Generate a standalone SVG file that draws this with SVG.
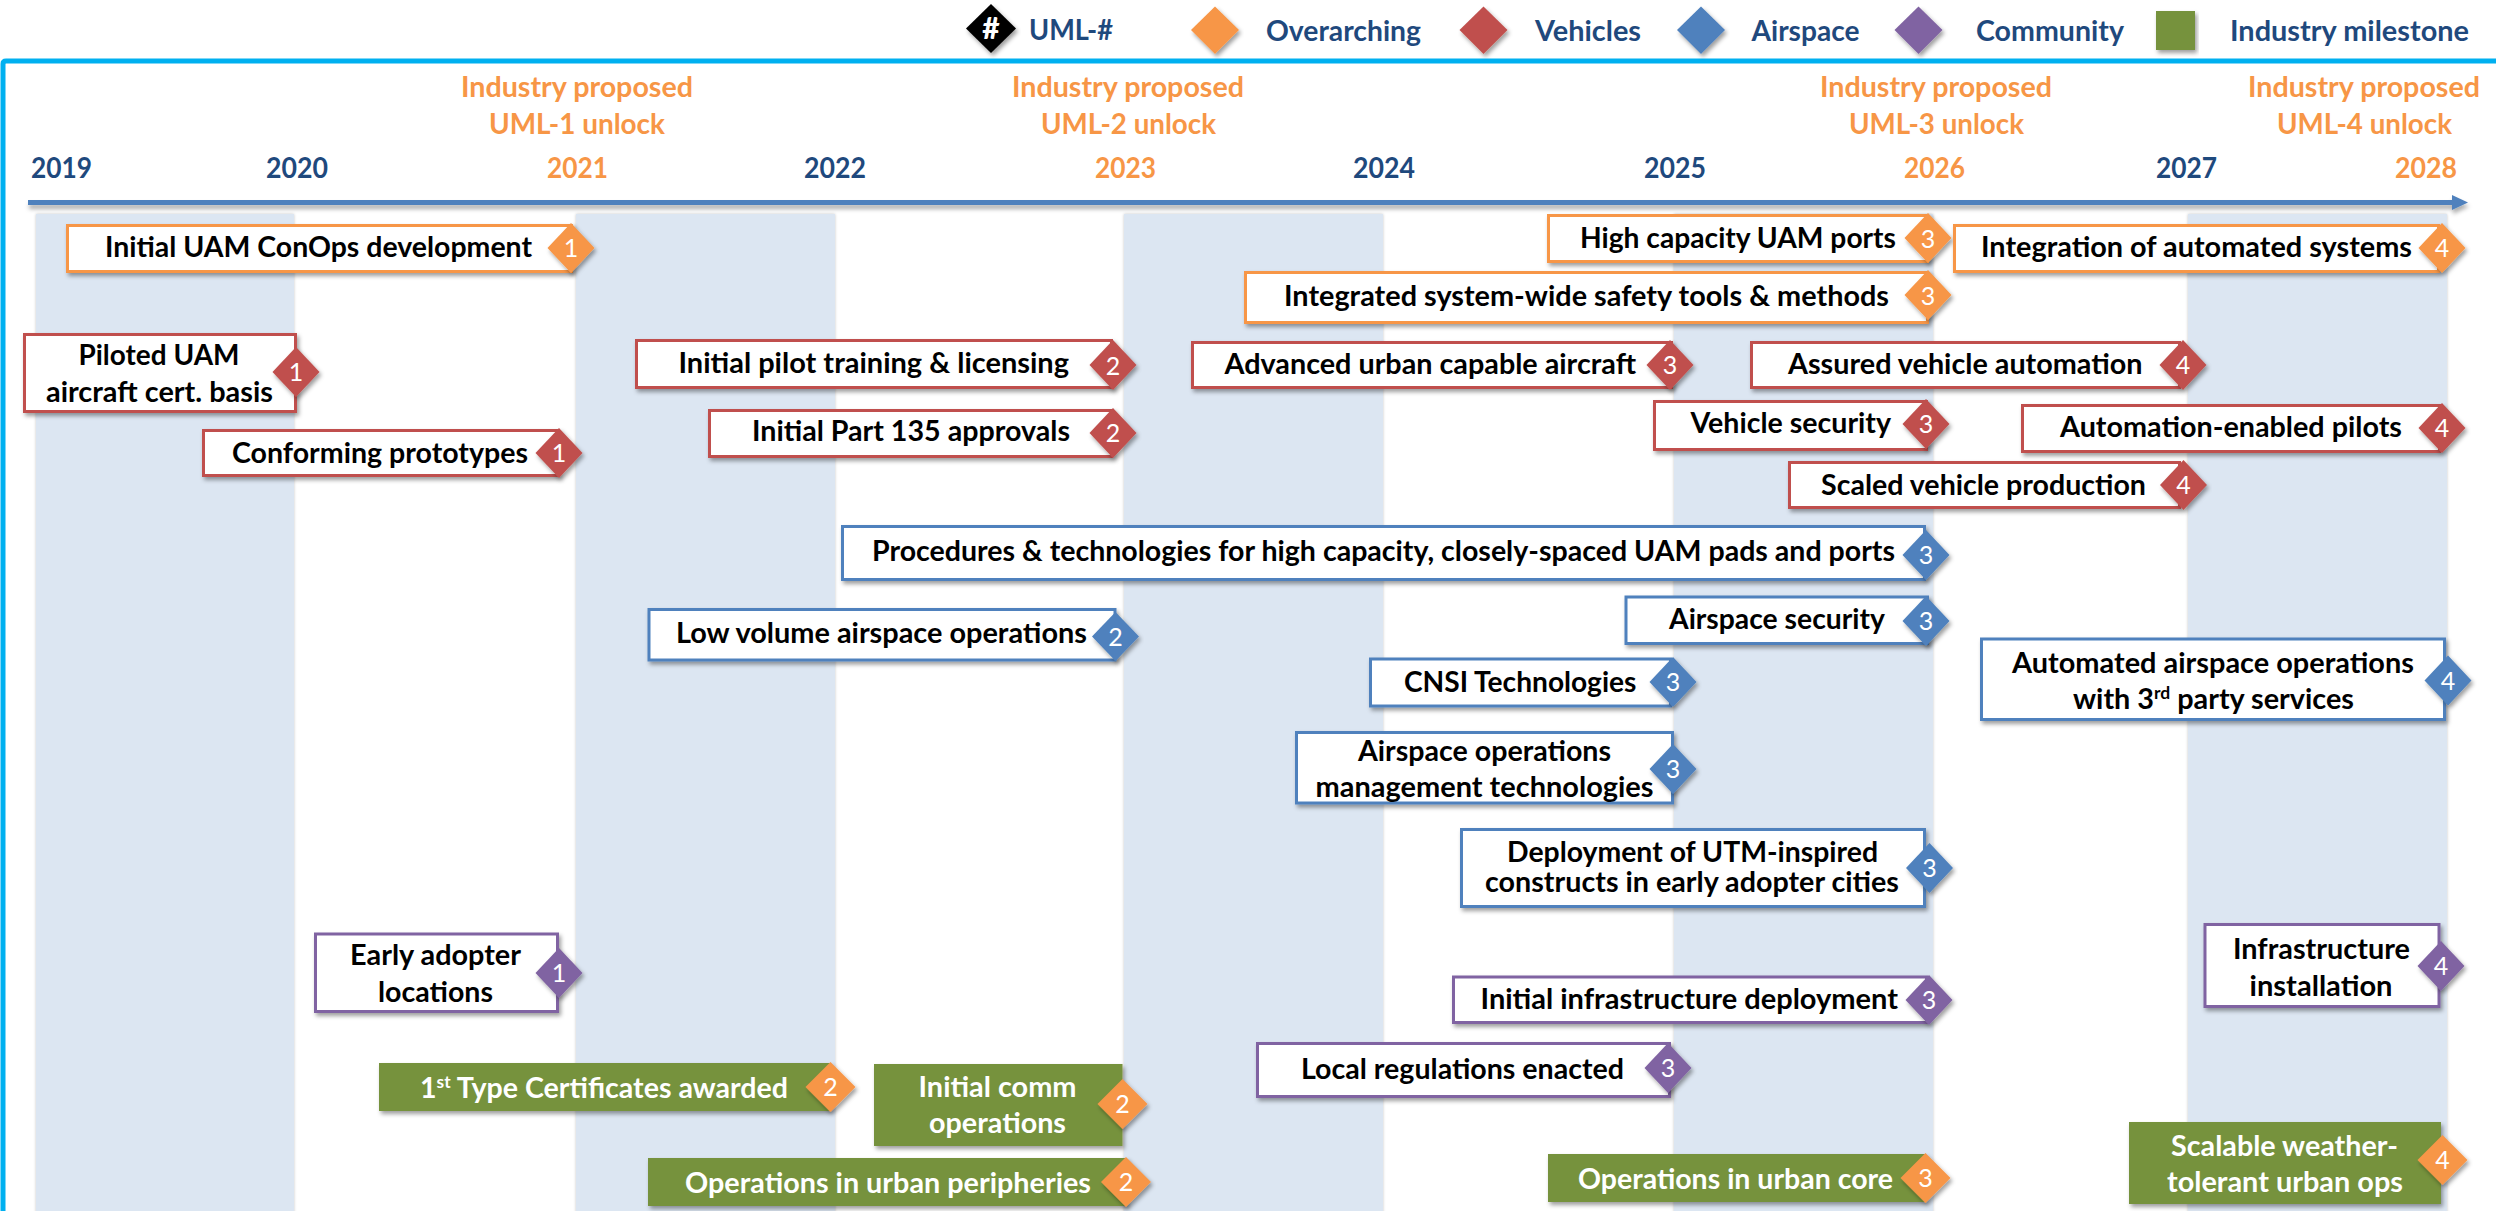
<svg xmlns="http://www.w3.org/2000/svg" width="2496" height="1211" viewBox="0 0 2496 1211">
<defs>
<filter id="sh" x="-10%" y="-20%" width="120%" height="150%"><feDropShadow dx="2" dy="3" stdDeviation="2" flood-color="#000" flood-opacity=".38"/></filter>
<filter id="ln" filterUnits="userSpaceOnUse" x="0" y="185" width="2496" height="40"><feDropShadow dx="1" dy="4" stdDeviation="2" flood-color="#000" flood-opacity=".32"/></filter>
<filter id="bs" x="-5%" y="-1%" width="110%" height="102%"><feDropShadow dx="0" dy="0" stdDeviation="1.5" flood-color="#000" flood-opacity=".22"/></filter>
</defs>
<style>
text{font-family:Lato,"Liberation Sans",sans-serif}
.b{font-weight:700;font-size:28px;fill:#000}
.w{font-weight:700;font-size:28px;fill:#fff}
.n{font-weight:400;font-size:25px;fill:#fff;text-anchor:middle}
.y{font-weight:700;font-size:28px;fill:#1F497D}
.o{font-weight:700;font-size:28px;fill:#F79646}
.h{font-weight:900;font-size:30px;fill:#fff;text-anchor:middle}
.box{fill:#fff;stroke-width:3;filter:url(#sh)}
.gb{fill:#76923C;filter:url(#sh)}
.band{fill:#DCE6F2;filter:url(#bs)}
.dia{filter:url(#sh)}
.OV{stroke:#F79646}.VE{stroke:#C0504D}.AI{stroke:#4F81BD}.CO{stroke:#8064A2}
.fOV{fill:#F79646}.fVE{fill:#C0504D}.fAI{fill:#4F81BD}.fCO{fill:#8064A2}
</style>
<rect width="2496" height="1211" fill="#fff"/>
<g id="bands">
<rect class="band" x="36" y="214" width="258" height="1000"/>
<rect class="band" x="576" y="214" width="259" height="1000"/>
<rect class="band" x="1124" y="214" width="259" height="1000"/>
<rect class="band" x="1674" y="214" width="259" height="1000"/>
<rect class="band" x="2188" y="214" width="259" height="1000"/>
</g>
<path d="M3,1214V64Q3,61 6,61H2496" fill="none" stroke="#00B0F0" stroke-width="5"/>
<g id="legend">
<path d="M991,4L1016,28.500L991,53L966,28.500Z" fill="#000" filter="url(#sh)"/><text x="991" y="39" class="h">#</text>
<text class="y" x="1029" y="40" textLength="84" lengthAdjust="spacingAndGlyphs">UML-#</text>
<path class="fOV dia" d="M1215,6.500L1239,30L1215,54L1191,30Z"/><text class="y" x="1266" y="41" textLength="155" lengthAdjust="spacingAndGlyphs">Overarching</text>
<path class="fVE dia" d="M1483.500,6.500L1507.500,30L1483.500,54L1459.500,30Z"/><text class="y" x="1535" y="41" textLength="106" lengthAdjust="spacingAndGlyphs">Vehicles</text>
<path class="fAI dia" d="M1701,6.500L1725,30L1701,54L1677,30Z"/><text class="y" x="1751.500" y="41" textLength="108" lengthAdjust="spacingAndGlyphs">Airspace</text>
<path class="fCO dia" d="M1918.500,6.500L1942.500,30L1918.500,54L1894.500,30Z"/><text class="y" x="1976" y="41" textLength="148" lengthAdjust="spacingAndGlyphs">Community</text>
<rect class="gb" x="2156" y="11" width="39" height="39"/><text class="y" x="2230" y="41" textLength="239" lengthAdjust="spacingAndGlyphs">Industry milestone</text>
</g>
<g id="years">
<text class="y" x="31" y="178" textLength="61" lengthAdjust="spacingAndGlyphs">2019</text>
<text class="y" x="266" y="178" textLength="62" lengthAdjust="spacingAndGlyphs">2020</text>
<text class="o" x="547" y="178" textLength="61" lengthAdjust="spacingAndGlyphs">2021</text>
<text class="y" x="804" y="178" textLength="62" lengthAdjust="spacingAndGlyphs">2022</text>
<text class="o" x="1095" y="178" textLength="61" lengthAdjust="spacingAndGlyphs">2023</text>
<text class="y" x="1353" y="178" textLength="62" lengthAdjust="spacingAndGlyphs">2024</text>
<text class="y" x="1644" y="178" textLength="62" lengthAdjust="spacingAndGlyphs">2025</text>
<text class="o" x="1904" y="178" textLength="61" lengthAdjust="spacingAndGlyphs">2026</text>
<text class="y" x="2156" y="178" textLength="61" lengthAdjust="spacingAndGlyphs">2027</text>
<text class="o" x="2395" y="178" textLength="62" lengthAdjust="spacingAndGlyphs">2028</text>
<text class="o" x="461" y="97" textLength="232" lengthAdjust="spacingAndGlyphs">Industry proposed</text>
<text class="o" x="489" y="134" textLength="176" lengthAdjust="spacingAndGlyphs">UML-1 unlock</text>
<text class="o" x="1012" y="97" textLength="232" lengthAdjust="spacingAndGlyphs">Industry proposed</text>
<text class="o" x="1041" y="134" textLength="175" lengthAdjust="spacingAndGlyphs">UML-2 unlock</text>
<text class="o" x="1820" y="97" textLength="232" lengthAdjust="spacingAndGlyphs">Industry proposed</text>
<text class="o" x="1849" y="134" textLength="175" lengthAdjust="spacingAndGlyphs">UML-3 unlock</text>
<text class="o" x="2248" y="97" textLength="232" lengthAdjust="spacingAndGlyphs">Industry proposed</text>
<text class="o" x="2277" y="134" textLength="175" lengthAdjust="spacingAndGlyphs">UML-4 unlock</text>
</g>
<g id="connectors" filter="url(#ln)">
<path d="M28,202.500H2454" stroke="#4F81BD" stroke-width="5" fill="none"/>
<path d="M2452,195L2468,202.500L2452,210Z" fill="#4F81BD"/>
</g>
<g id="n1"><rect class="box OV" x="67.500" y="225.500" width="504" height="46"/><text class="b" x="105" y="257" textLength="427" lengthAdjust="spacingAndGlyphs">Initial UAM ConOps development</text><path class="fOV dia" d="M571,223L594.500,248L571,273L547.500,248Z"/><text class="n" x="571" y="257">1</text></g>
<g id="n2"><rect class="box OV" x="1548.500" y="215.500" width="379" height="46"/><text class="b" x="1580" y="248" textLength="316" lengthAdjust="spacingAndGlyphs">High capacity UAM ports</text><path class="fOV dia" d="M1928,213L1951.500,238L1928,263L1904.500,238Z"/><text class="n" x="1928" y="248">3</text></g>
<g id="n3"><rect class="box OV" x="1245.500" y="272.500" width="682" height="50"/><text class="b" x="1284" y="306" textLength="605" lengthAdjust="spacingAndGlyphs">Integrated system-wide safety tools &amp; methods</text><path class="fOV dia" d="M1928,270L1951.500,295L1928,320L1904.500,295Z"/><text class="n" x="1928" y="305">3</text></g>
<g id="n4"><rect class="box OV" x="1954.500" y="225.500" width="484" height="46"/><text class="b" x="1981" y="257" textLength="431" lengthAdjust="spacingAndGlyphs">Integration of automated systems</text><path class="fOV dia" d="M2442,223L2465.500,248L2442,273L2418.500,248Z"/><text class="n" x="2442" y="257">4</text></g>
<g id="n5"><rect class="box VE" x="24.500" y="334.500" width="271" height="77"/><text class="b" x="78.500" y="365" textLength="161" lengthAdjust="spacingAndGlyphs">Piloted UAM</text><text class="b" x="46" y="402" textLength="227" lengthAdjust="spacingAndGlyphs">aircraft cert. basis</text><path class="fVE dia" d="M296,347L319.500,372L296,397L272.500,372Z"/><text class="n" x="296" y="381">1</text></g>
<g id="n6"><rect class="box VE" x="203.500" y="430.500" width="354" height="45"/><text class="b" x="232" y="463" textLength="296" lengthAdjust="spacingAndGlyphs">Conforming prototypes</text><path class="fVE dia" d="M559,428L582.500,453L559,478L535.500,453Z"/><text class="n" x="559" y="462">1</text></g>
<g id="n7"><rect class="box VE" x="636.500" y="340.500" width="475" height="47"/><text class="b" x="678.500" y="373" textLength="390.500" lengthAdjust="spacingAndGlyphs">Initial pilot training &amp; licensing</text><path class="fVE dia" d="M1113,340L1136.500,365L1113,390L1089.500,365Z"/><text class="n" x="1113" y="375">2</text></g>
<g id="n8"><rect class="box VE" x="709.500" y="410.500" width="402" height="46"/><text class="b" x="752" y="441" textLength="318" lengthAdjust="spacingAndGlyphs">Initial Part 135 approvals</text><path class="fVE dia" d="M1113,408L1136.500,433L1113,458L1089.500,433Z"/><text class="n" x="1113" y="442">2</text></g>
<g id="n9"><rect class="box VE" x="1192.500" y="342.500" width="479" height="45"/><text class="b" x="1224.500" y="374" textLength="411.500" lengthAdjust="spacingAndGlyphs">Advanced urban capable aircraft</text><path class="fVE dia" d="M1670,340L1693.500,365L1670,390L1646.500,365Z"/><text class="n" x="1670" y="374">3</text></g>
<g id="n10"><rect class="box VE" x="1751.500" y="342.500" width="428" height="45"/><text class="b" x="1788" y="374" textLength="354.500" lengthAdjust="spacingAndGlyphs">Assured vehicle automation</text><path class="fVE dia" d="M2183,340L2206.500,365L2183,390L2159.500,365Z"/><text class="n" x="2183" y="374">4</text></g>
<g id="n11"><rect class="box VE" x="1654.500" y="401.500" width="272" height="48"/><text class="b" x="1690.500" y="433" textLength="200.500" lengthAdjust="spacingAndGlyphs">Vehicle security</text><path class="fVE dia" d="M1926,399L1949.500,424L1926,449L1902.500,424Z"/><text class="n" x="1926" y="433">3</text></g>
<g id="n12"><rect class="box VE" x="2022.500" y="405.500" width="417" height="46"/><text class="b" x="2060" y="437" textLength="342" lengthAdjust="spacingAndGlyphs">Automation-enabled pilots</text><path class="fVE dia" d="M2442,403L2465.500,428L2442,453L2418.500,428Z"/><text class="n" x="2442" y="437">4</text></g>
<g id="n13"><rect class="box VE" x="1789.500" y="462.500" width="390" height="45"/><text class="b" x="1821" y="495" textLength="325" lengthAdjust="spacingAndGlyphs">Scaled vehicle production</text><path class="fVE dia" d="M2183.500,460L2207,485L2183.500,510L2160,485Z"/><text class="n" x="2183.500" y="494">4</text></g>
<g id="n14"><rect class="box AI" x="842.500" y="526.500" width="1082" height="53"/><text class="b" x="872" y="561" textLength="1023" lengthAdjust="spacingAndGlyphs">Procedures &amp; technologies for high capacity, closely-spaced UAM pads and ports</text><path class="fAI dia" d="M1926,530L1949.500,555L1926,580L1902.500,555Z"/><text class="n" x="1926" y="564">3</text></g>
<g id="n15"><rect class="box AI" x="1626" y="597" width="301.500" height="46.500"/><text class="b" x="1669" y="629" textLength="216" lengthAdjust="spacingAndGlyphs">Airspace security</text><path class="fAI dia" d="M1926,596L1949.500,621L1926,646L1902.500,621Z"/><text class="n" x="1926" y="630">3</text></g>
<g id="n16"><rect class="box AI" x="649" y="609.500" width="466" height="50.500"/><text class="b" x="676" y="643" textLength="411" lengthAdjust="spacingAndGlyphs">Low volume airspace operations</text><path class="fAI dia" d="M1115.500,612L1139,636.500L1115.500,661L1092,636.500Z"/><text class="n" x="1115.500" y="646">2</text></g>
<g id="n17"><rect class="box AI" x="1370.500" y="659" width="300" height="47"/><text class="b" x="1404" y="692" textLength="232.500" lengthAdjust="spacingAndGlyphs">CNSI Technologies</text><path class="fAI dia" d="M1673,657L1696.500,682L1673,707L1649.500,682Z"/><text class="n" x="1673" y="691">3</text></g>
<g id="n18"><rect class="box AI" x="1296.500" y="732.500" width="376" height="70.500"/><text class="b" x="1358" y="760.500" textLength="253" lengthAdjust="spacingAndGlyphs">Airspace operations</text><text class="b" x="1315.500" y="797" textLength="338" lengthAdjust="spacingAndGlyphs">management technologies</text><path class="fAI dia" d="M1673,744L1696.500,769L1673,794L1649.500,769Z"/><text class="n" x="1673" y="778">3</text></g>
<g id="n19"><rect class="box AI" x="1461.500" y="829.500" width="463" height="77"/><text class="b" x="1507" y="862" textLength="371" lengthAdjust="spacingAndGlyphs">Deployment of UTM-inspired</text><text class="b" x="1485" y="892" textLength="414" lengthAdjust="spacingAndGlyphs">constructs in early adopter cities</text><path class="fAI dia" d="M1929.500,843L1953,868L1929.500,893L1906,868Z"/><text class="n" x="1929.500" y="877">3</text></g>
<g id="n20"><rect class="box AI" x="1981.500" y="639" width="463" height="80.500"/><text class="b" x="2012" y="672.500" textLength="402" lengthAdjust="spacingAndGlyphs">Automated airspace operations</text><text class="b" x="2073" y="709" textLength="281" lengthAdjust="spacingAndGlyphs">with 3<tspan font-size="17" dy="-10">rd</tspan><tspan dy="10"> party services</tspan></text><path class="fAI dia" d="M2448,655.500L2471.500,680.500L2448,705.500L2424.500,680.500Z"/><text class="n" x="2448" y="689.500">4</text></g>
<g id="n21"><rect class="box CO" x="315.500" y="934" width="242" height="77.500"/><text class="b" x="350" y="965" textLength="171" lengthAdjust="spacingAndGlyphs">Early adopter</text><text class="b" x="378" y="1002" textLength="115" lengthAdjust="spacingAndGlyphs">locations</text><path class="fCO dia" d="M559,948L582.500,973L559,998L535.500,973Z"/><text class="n" x="559" y="982">1</text></g>
<g id="n22"><rect class="box CO" x="2205" y="924.500" width="234" height="82"/><text class="b" x="2233" y="959" textLength="177" lengthAdjust="spacingAndGlyphs">Infrastructure</text><text class="b" x="2249.500" y="995.500" textLength="143" lengthAdjust="spacingAndGlyphs">installation</text><path class="fCO dia" d="M2441,941L2464.500,966L2441,991L2417.500,966Z"/><text class="n" x="2441" y="975">4</text></g>
<g id="n23"><rect class="box CO" x="1453.500" y="977" width="473" height="45.500"/><text class="b" x="1480.500" y="1009" textLength="417.500" lengthAdjust="spacingAndGlyphs">Initial infrastructure deployment</text><path class="fCO dia" d="M1929,975L1952.500,1000L1929,1025L1905.500,1000Z"/><text class="n" x="1929" y="1009">3</text></g>
<g id="n24"><rect class="box CO" x="1257.500" y="1043.500" width="412" height="53"/><text class="b" x="1301" y="1079" textLength="323" lengthAdjust="spacingAndGlyphs">Local regulations enacted</text><path class="fCO dia" d="M1668,1043L1691.500,1068L1668,1093L1644.500,1068Z"/><text class="n" x="1668" y="1077">3</text></g>
<g id="n25"><rect class="gb" x="379" y="1063" width="451" height="48"/><text class="w" x="420" y="1098" textLength="368" lengthAdjust="spacingAndGlyphs">1<tspan font-size="17" dy="-10">st</tspan><tspan dy="10"> Type Certificates awarded</tspan></text><path class="fOV dia" d="M830.500,1062L855.500,1087L830.500,1112L805.500,1087Z"/><text class="n" x="830.500" y="1096">2</text></g>
<g id="n26"><rect class="gb" x="874" y="1064" width="248.500" height="82"/><text class="w" x="918.500" y="1097" textLength="158" lengthAdjust="spacingAndGlyphs">Initial comm</text><text class="w" x="929" y="1133" textLength="137" lengthAdjust="spacingAndGlyphs">operations</text><path class="fOV dia" d="M1122.500,1079L1147.500,1104L1122.500,1129L1097.500,1104Z"/><text class="n" x="1122.500" y="1113">2</text></g>
<g id="n27"><rect class="gb" x="648" y="1158" width="478.500" height="48"/><text class="w" x="685" y="1193" textLength="406" lengthAdjust="spacingAndGlyphs">Operations in urban peripheries</text><path class="fOV dia" d="M1126,1157L1151,1182L1126,1207L1101,1182Z"/><text class="n" x="1126" y="1191">2</text></g>
<g id="n28"><rect class="gb" x="1548" y="1154" width="377" height="48"/><text class="w" x="1578" y="1189" textLength="315" lengthAdjust="spacingAndGlyphs">Operations in urban core</text><path class="fOV dia" d="M1925.500,1153L1950.500,1178L1925.500,1203L1900.500,1178Z"/><text class="n" x="1925.500" y="1187">3</text></g>
<g id="n29"><rect class="gb" x="2129" y="1122" width="312" height="82"/><text class="w" x="2171" y="1156" textLength="227" lengthAdjust="spacingAndGlyphs">Scalable weather-</text><text class="w" x="2167" y="1192" textLength="236" lengthAdjust="spacingAndGlyphs">tolerant urban ops</text><path class="fOV dia" d="M2442.500,1135L2467.500,1160L2442.500,1185L2417.500,1160Z"/><text class="n" x="2442.500" y="1169">4</text></g>
</svg>
